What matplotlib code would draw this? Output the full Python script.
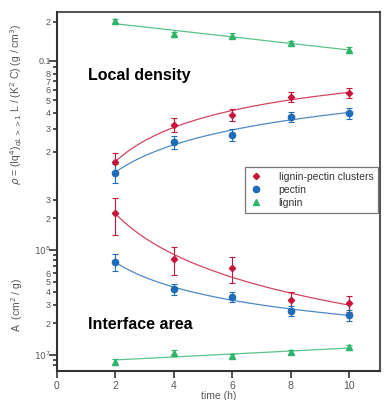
import numpy as np
import matplotlib
matplotlib.use('Agg')
import matplotlib.pyplot as plt
from matplotlib.lines import Line2D
from matplotlib.ticker import FixedLocator, FixedFormatter, NullFormatter

plt.rcParams['font.family'] = ['Liberation Sans', 'DejaVu Sans']

# time points (h)
time_h = [2, 4, 6, 8, 10]

# local density (g / cm^3)
rho_clusters = [0.0167, 0.0322, 0.0384, 0.0529, 0.0567]
rho_clusters_err = [0.0028, 0.004, 0.0042, 0.005, 0.005]
rho_pectin = [0.0138, 0.0238, 0.0270, 0.0371, 0.0398]
rho_pectin_err = [0.0024, 0.0027, 0.003, 0.0035, 0.004]
rho_lignin = [0.202, 0.160, 0.156, 0.137, 0.122]
rho_lignin_err = [0.01, 0.008, 0.007, 0.006, 0.006]

# interface area (cm^2 / g)
area_clusters = [2.25e8, 0.82e8, 0.67e8, 0.334e8, 0.31e8]
area_clusters_err = [0.85e8, 0.24e8, 0.18e8, 0.06e8, 0.055e8]
area_pectin = [0.77e8, 0.425e8, 0.357e8, 0.263e8, 0.24e8]
area_pectin_err = [0.14e8, 0.05e8, 0.04e8, 0.03e8, 0.03e8]
area_lignin = [0.86e7, 1.05e7, 0.98e7, 1.07e7, 1.18e7]
area_lignin_err = [0.06e7, 0.06e7, 0.05e7, 0.05e7, 0.06e7]

series_names = ['lignin-pectin clusters', 'pectin', 'lignin']
colors = ['#c8163a', '#1f6cb8', '#2fb56a']
markers = ['D', 'o', '^']
msizes = [3.2, 4.5, 4.2]

top_ticks = [0.2, 0.1, 0.09, 0.08, 0.07, 0.06, 0.05, 0.04, 0.03, 0.02]
top_labels = ['2', '0.1', '', '8', '7', '6', '5', '4', '3', '2']
bot_ticks = [3e8, 2e8, 1e8, 9e7, 8e7, 7e7, 6e7, 5e7, 4e7, 3e7, 2e7, 1e7, 9e6, 8e6]
bot_labels = ['3', '2', '$10^8$', '', '', '', '6', '5', '4', '3', '2', '$10^7$', '', '']
major_vals = [0.1, 1e8, 1e7]

fig = plt.figure(figsize=(3.85, 4.0), dpi=100)
ax_top = fig.add_axes([0.148, 0.52, 0.839, 0.45])
ax_bot = fig.add_axes([0.148, 0.0725, 0.839, 0.4475], sharex=ax_top)

tx = np.array(time_h, dtype=float)
xfit = np.linspace(2, 10, 100)


def fit_line(y, kind):
    ly = np.log10(y)
    if kind == 'exp':
        p = np.polyfit(tx, ly, 1)
        return 10 ** np.polyval(p, xfit)
    p = np.polyfit(np.log10(tx), ly, 2)
    return 10 ** np.polyval(p, np.log10(xfit))


def draw(ax, ys, errs, kinds):
    for y, e, c, m, ms, k in zip(ys, errs, colors, markers, msizes, kinds):
        ax.plot(xfit, fit_line(y, k), color=c, lw=0.9, alpha=0.8)
        ax.errorbar(tx, y, yerr=e, fmt=m, color=c, ms=ms, capsize=2.5,
                    elinewidth=0.8, capthick=0.8, mec=c)


draw(ax_top, [rho_clusters, rho_pectin, rho_lignin],
     [rho_clusters_err, rho_pectin_err, rho_lignin_err], ['pow', 'pow', 'exp'])
draw(ax_bot, [area_clusters, area_pectin, area_lignin],
     [area_clusters_err, area_pectin_err, area_lignin_err], ['pow', 'pow', 'exp'])

tick_col = '#555555'
for ax, ticks, labels in [(ax_top, top_ticks, top_labels), (ax_bot, bot_ticks, bot_labels)]:
    ax.set_yscale('log')
    ax.yaxis.set_major_locator(FixedLocator(ticks))
    ax.yaxis.set_major_formatter(FixedFormatter(labels))
    ax.yaxis.set_minor_locator(FixedLocator([]))
    ax.yaxis.set_minor_formatter(NullFormatter())
    ax.tick_params(axis='y', direction='out', length=3, width=1.2, colors='#333333',
                   labelsize=6.5, labelcolor=tick_col, pad=1.5)
    for t, v in zip(ax.yaxis.get_major_ticks(), ticks):
        if v in major_vals:
            t.tick1line.set_markersize(6)
    for s in ax.spines.values():
        s.set_color('#333333')
    ax.spines['left'].set_linewidth(1.5)
    ax.spines['right'].set_linewidth(1.5)
    ax.spines['right'].set_color('#555555')

ax_top.set_ylim(0.0098, 0.238)
ax_bot.set_ylim(7.04e6, 3.57e8)
ax_top.spines['bottom'].set_visible(False)
ax_bot.spines['top'].set_visible(False)
ax_top.spines['top'].set_linewidth(1.2)
ax_bot.spines['bottom'].set_linewidth(1.5)
ax_top.tick_params(axis='x', bottom=False, labelbottom=False)

ax_bot.set_xlim(0, 11.05)
ax_bot.set_xticks([0, 2, 4, 6, 8, 10])
ax_bot.tick_params(axis='x', direction='out', length=5, width=1.2, colors='#333333',
                   labelsize=7.5, labelcolor=tick_col, pad=2)
ax_bot.set_xlabel('time (h)', fontsize=7.5, color=tick_col, labelpad=0)

fig.text(0.044, 0.74, r'$\rho$ = (Iq$^4$)$_{qL>>1}$ L / (K$^2$ C) (g / cm$^3$)',
         rotation=90, ha='center', va='center', fontsize=7.5, color=tick_col)
fig.text(0.044, 0.237, r'A  (cm$^2$ / g)', rotation=90, ha='center', va='center',
         fontsize=7.5, color=tick_col)

fig.text(0.228, 0.812, 'Local density', fontsize=11.5, fontweight='bold', va='center')
fig.text(0.228, 0.188, 'Interface area', fontsize=11.5, fontweight='bold', va='center')

handles = [Line2D([], [], ls='none', marker=m, color=c, ms=ms)
           for c, m, ms in zip(colors, markers, msizes)]
leg = fig.legend(handles, series_names, loc='upper left', bbox_to_anchor=(0.636, 0.582),
                 fontsize=7.5, frameon=True, fancybox=False, handlelength=1.2,
                 handletextpad=1.6, borderpad=0.45, labelspacing=0.3, borderaxespad=0)
leg.get_frame().set_edgecolor('#555555')
leg.get_frame().set_linewidth(0.9)
for t in leg.get_texts():
    t.set_color('#333333')

fig.savefig('out.png', dpi=100)
